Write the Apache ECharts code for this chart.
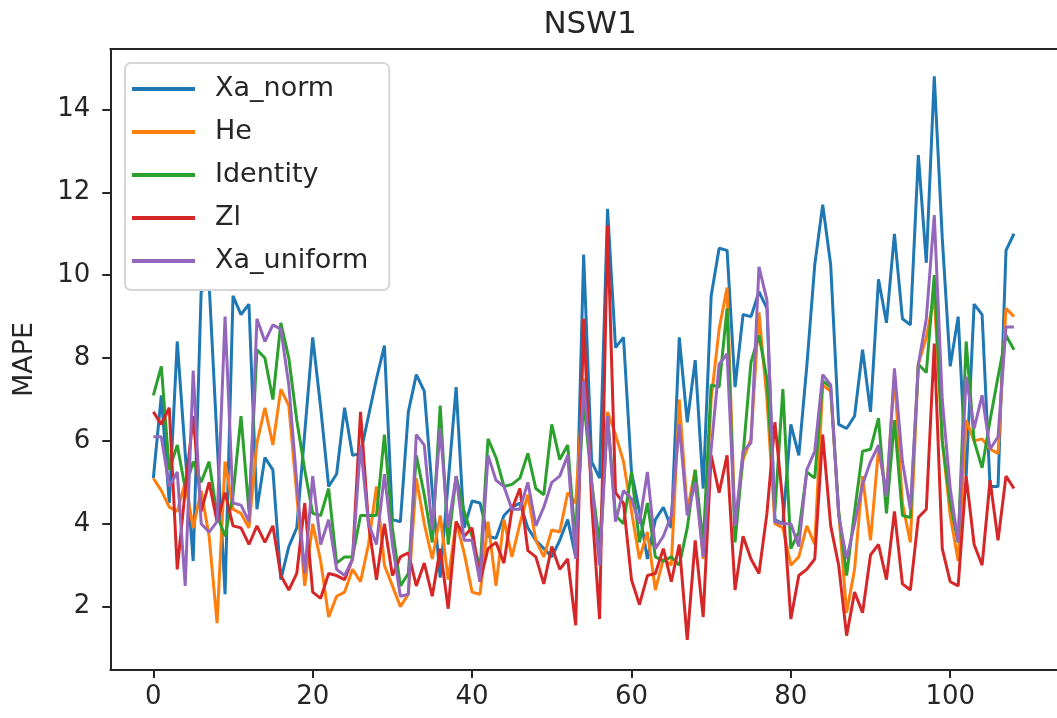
<!DOCTYPE html>
<html>
<head>
<meta charset="utf-8">
<script src="https://cdn.jsdelivr.net/npm/echarts@6/dist/echarts.min.js"></script>
<style>
  html, body { margin: 0; padding: 0; background: #fff; }
  #chart { width: 1057px; height: 718px; }
</style>
</head>
<body>
<div id="chart"></div>
<script>
// x positions (sample index 0..108)
const xIndex = [];
for (let i = 0; i <= 108; i++) xIndex.push(i);

const xTicks = [0, 20, 40, 60, 80, 100];
const yTicks = [2, 4, 6, 8, 10, 12, 14];

// values
const xaNorm = [5.1, 7.1, 4.5, 8.4, 5.7, 3.1, 9.6, 9.8, 6.0, 2.3,
  9.5, 9.05, 9.3, 4.35, 5.6, 5.3, 2.65, 3.45, 3.9, 6.2,
  8.5, 6.8, 4.9, 5.2, 6.8, 5.65, 5.7, 6.6, 7.5, 8.3,
  4.1, 4.05, 6.7, 7.6, 7.2, 4.8, 2.7, 5.0, 7.3, 3.9,
  4.55, 4.5, 3.7, 3.65, 4.2, 4.4, 4.5, 3.9, 3.6, 3.4,
  3.2, 3.6, 4.1, 3.2, 10.5, 5.5, 5.1, 11.6, 8.25, 8.5,
  5.25, 4.3, 3.15, 4.1, 4.4, 3.9, 8.5, 6.45, 7.95, 4.85,
  9.5, 10.65, 10.6, 7.3, 9.05, 9.0, 9.6, 9.2, 4.1, 4.0,
  6.4, 5.65, 7.8, 10.25, 11.7, 10.25, 6.4, 6.3, 6.6, 8.2,
  6.7, 9.9, 8.85, 11.0, 8.95, 8.8, 12.9, 10.3, 14.8, 10.9,
  7.8, 9.0, 5.15, 9.3, 9.05, 4.9, 4.9, 10.6, 11.0];

const he = [5.1, 4.8, 4.4, 4.3, 5.0, 3.9, 4.8, 3.7, 1.6, 5.5,
  4.35, 4.25, 3.9, 5.95, 6.8, 5.9, 7.25, 6.85, 4.7, 2.5,
  4.0, 3.1, 1.75, 2.25, 2.35, 2.9, 2.6, 3.5, 4.9, 3.0,
  2.5, 2.0, 2.3, 5.1, 4.0, 3.15, 4.2, 2.65, 4.05, 3.3,
  2.35, 2.3, 4.05, 2.5, 4.1, 3.2, 4.0, 4.7, 3.6, 3.2,
  3.85, 3.8, 4.75, 4.5, 7.5, 5.0, 3.0, 6.7, 6.15, 5.5,
  4.3, 3.15, 3.8, 2.4, 3.15, 3.0, 7.0, 4.3, 5.3, 3.15,
  7.0, 8.7, 9.7, 3.9, 5.55, 6.05, 9.1, 7.0, 4.0, 3.9,
  3.0, 3.2, 3.95, 3.5, 7.35, 7.2, 4.3, 1.85, 2.9, 5.15,
  3.6, 5.8, 4.75, 7.6, 4.5, 3.55, 7.85, 8.5, 9.5, 6.0,
  4.2, 3.1, 6.5, 6.0, 6.05, 5.8, 5.7, 9.2, 9.0];

const identity = [7.1, 7.8, 5.3, 5.9, 4.85, 5.5, 5.0, 5.5, 4.2, 3.7,
  4.7, 6.6, 4.3, 8.2, 8.0, 7.0, 8.85, 8.0, 6.5, 5.3,
  4.25, 4.2, 4.85, 3.05, 3.2, 3.2, 4.2, 4.2, 4.2, 6.15,
  3.9, 2.5, 2.8, 5.65, 4.7, 3.55, 6.85, 3.5, 5.15, 4.3,
  3.7, 2.9, 6.05, 5.6, 4.9, 4.95, 5.1, 5.7, 4.85, 4.7,
  6.4, 5.55, 5.9, 3.5, 7.0, 5.0, 3.5, 6.6, 4.2, 4.0,
  5.25, 3.55, 4.5, 3.2, 3.1, 3.2, 3.0, 3.9, 5.3, 3.5,
  7.35, 7.3, 9.2, 3.55, 5.65, 7.9, 8.55, 7.5, 4.3, 7.25,
  3.4, 3.8, 5.25, 5.1, 7.45, 7.3, 4.3, 2.75, 4.3, 5.75,
  5.8, 6.55, 4.25, 6.5, 4.2, 4.15, 7.85, 7.65, 10.0, 6.0,
  4.5, 3.55, 8.4, 6.0, 5.35, 6.5, 7.55, 8.55, 8.2];

const zl = [6.7, 6.4, 6.8, 2.9, 4.8, 6.6, 4.3, 5.0, 4.05, 4.75,
  3.95, 3.9, 3.5, 3.95, 3.55, 3.95, 2.75, 2.4, 2.8, 4.5,
  2.35, 2.2, 2.8, 2.75, 2.65, 3.15, 6.7, 4.0, 2.65, 4.0,
  2.75, 3.2, 3.3, 2.5, 3.05, 2.25, 3.4, 1.95, 4.05, 3.7,
  3.9, 2.6, 3.4, 3.55, 3.05, 4.35, 4.85, 3.35, 3.2, 2.55,
  3.45, 2.9, 3.15, 1.55, 8.95, 4.5, 1.7, 11.2, 4.75, 4.5,
  2.65, 2.05, 2.75, 2.8, 3.4, 2.6, 3.5, 1.2, 3.6, 1.75,
  5.65, 4.75, 5.65, 2.4, 3.7, 3.15, 2.8, 4.25, 6.45, 4.5,
  1.7, 2.75, 2.9, 3.15, 6.15, 3.95, 3.0, 1.3, 2.35, 1.85,
  3.25, 3.5, 2.65, 4.3, 2.55, 2.4, 4.15, 4.35, 8.35, 3.4,
  2.6, 2.5, 5.15, 3.5, 3.0, 5.05, 3.6, 5.15, 4.85];

const xaUniform = [6.1, 6.1, 4.9, 5.25, 2.5, 7.7, 4.0, 3.8, 4.05, 9.0,
  4.5, 4.45, 4.05, 8.95, 8.4, 8.8, 8.7, 7.35, 5.0, 2.8,
  5.15, 3.5, 4.1, 2.9, 2.75, 3.15, 5.9, 4.0, 3.5, 5.2,
  3.5, 2.25, 2.3, 6.15, 5.9, 3.85, 6.3, 3.9, 5.15, 3.6,
  3.6, 2.6, 5.65, 5.05, 4.9, 4.35, 4.35, 5.0, 3.95, 4.4,
  5.0, 5.15, 5.65, 3.15, 7.45, 5.0, 3.0, 6.6, 4.05, 4.8,
  4.6, 4.0, 5.25, 3.4, 3.7, 4.2, 6.4, 4.2, 5.0, 3.2,
  5.8, 7.85, 8.1, 3.95, 5.75, 5.95, 10.2, 9.4, 4.05, 4.0,
  4.0, 3.45, 5.3, 5.75, 7.6, 7.35, 4.2, 3.15, 4.0, 4.95,
  5.5, 5.9, 4.65, 7.75, 5.5, 4.35, 7.85, 8.95, 11.45, 7.0,
  4.85, 3.55, 7.55, 6.3, 7.1, 5.8, 6.1, 8.75, 8.75];

const seriesNames = ['Xa_norm', 'He', 'Identity', 'Zl', 'Xa_uniform'];
const seriesValues = [xaNorm, he, identity, zl, xaUniform];
const colors = ['#1f77b4', '#ff7f0e', '#2ca02c', '#d62728', '#9467bd'];

const font = 'DejaVu Sans';
const ink = '#262626';

let chart = echarts.init(document.getElementById('chart'), null, {renderer: 'canvas'});

chart.setOption({
  animation: false,
  backgroundColor: '#fff',
  color: colors,
  title: {
    text: 'NSW1',
    left: 585,
    textAlign: 'center',
    top: 4,
    textStyle: {fontFamily: font, fontSize: 31, fontWeight: 'normal', color: ink}
  },
  legend: {
    orient: 'vertical',
    left: 125,
    top: 63,
    padding: [11, 21, 14, 7],
    itemGap: 13,
    itemWidth: 63,
    itemHeight: 4,
    icon: 'rect',
    backgroundColor: '#fff',
    borderColor: '#d6d6d6',
    borderWidth: 2,
    borderRadius: 6,
    textStyle: {fontFamily: font, fontSize: 27, color: ink, lineHeight: 30, padding: [0, 0, 0, 15]},
    data: seriesNames
  },
  grid: {
    left: 110.3,
    top: 49,
    width: 950.4,
    height: 621,
    containLabel: false
  },
  xAxis: [{
    type: 'value',
    min: -5.4,
    max: 113.4,
    axisLine: {show: true, onZero: false, lineStyle: {color: ink, width: 2}},
    splitLine: {show: false},
    axisTick: {
      show: true, length: 8, customValues: xTicks,
      lineStyle: {color: ink, width: 2}
    },
    axisLabel: {
      customValues: xTicks, margin: 14,
      fontFamily: font, fontSize: 26, color: ink
    }
  }, {
    // top spine only
    type: 'value',
    position: 'top',
    min: -5.4,
    max: 113.4,
    axisLine: {show: true, onZero: false, lineStyle: {color: ink, width: 2}},
    axisTick: {show: false},
    axisLabel: {show: false},
    splitLine: {show: false}
  }],
  yAxis: {
    type: 'value',
    min: 0.47,
    max: 15.46,
    name: 'MAPE',
    nameLocation: 'middle',
    nameGap: 72,
    nameTextStyle: {fontFamily: font, fontSize: 27, color: ink},
    axisLine: {show: true, onZero: false, lineStyle: {color: ink, width: 2}},
    splitLine: {show: false},
    axisTick: {
      show: true, length: 8, customValues: yTicks,
      lineStyle: {color: ink, width: 2}
    },
    axisLabel: {
      customValues: yTicks, margin: 20,
      fontFamily: font, fontSize: 26, color: ink
    }
  },
  series: seriesNames.map((name, k) => ({
    name: name,
    type: 'line',
    xAxisIndex: 0,
    showSymbol: false,
    symbol: 'none',
    data: seriesValues[k].map((v, i) => [xIndex[i], v]),
    lineStyle: {width: 3, color: colors[k]},
    itemStyle: {color: colors[k]}
  }))
});
</script>
</body>
</html>
